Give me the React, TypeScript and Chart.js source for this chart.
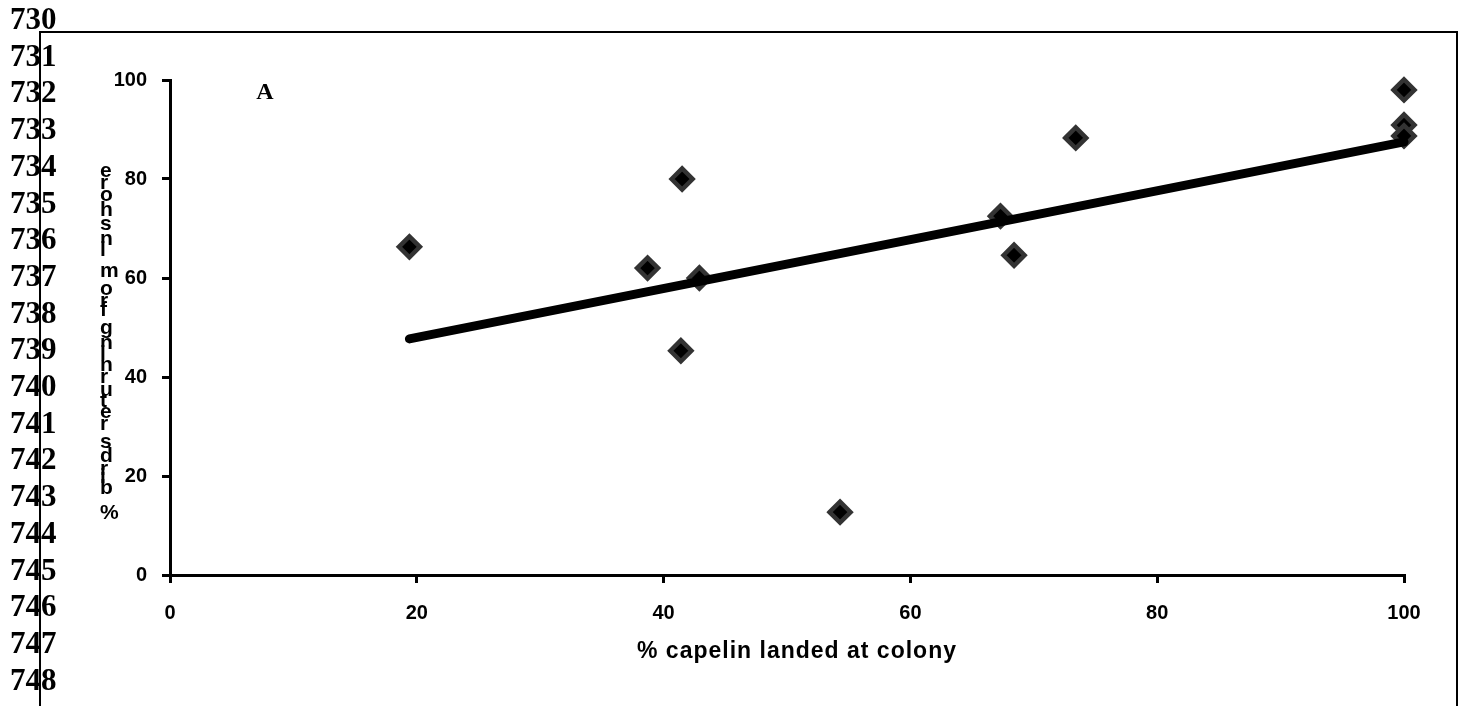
import React, { useEffect, useRef } from 'react';
import { Chart, registerables } from 'chart.js';

Chart.register(...registerables);

// ---- data ----
const capelinLanded = [19.4, 38.7, 41.5, 41.4, 42.9, 54.3, 67.3, 68.4, 73.4, 100, 100, 100];
const birdsReturning = [66.3, 62.0, 80.0, 45.3, 60.0, 12.7, 72.5, 64.6, 88.3, 98.0, 90.9, 88.7];
const trendX = [19.4, 100];
const trendY = [47.7, 87.5];
const xTickValues = [0, 20, 40, 60, 80, 100];
const yTickValues = [0, 20, 40, 60, 80, 100];
const lineNumbers = [
  '730', '731', '732', '733', '734', '735', '736', '737', '738', '739',
  '740', '741', '742', '743', '744', '745', '746', '747', '748',
];
const panelLabel = 'A';
const xTitle = '% capelin landed at colony';
const yTitle = '% birds returning from inshore';

const SANS = '"Liberation Sans", Arial, sans-serif';
const SERIF = '"Liberation Serif", "Times New Roman", serif';

const decorPlugin = {
  id: 'decor',
  afterDraw(chart: any) {
    const ctx: CanvasRenderingContext2D = chart.ctx;
    const area = chart.chartArea;
    ctx.save();
    ctx.fillStyle = '#000';

    // line numbers on the left margin
    ctx.font = `bold 31px ${SERIF}`;
    ctx.textAlign = 'left';
    ctx.textBaseline = 'middle';
    lineNumbers.forEach((t, i) => {
      ctx.fillText(t, 10, 21 + i * 36.7);
    });

    // page box border
    ctx.strokeStyle = '#000';
    ctx.lineWidth = 2;
    ctx.beginPath();
    ctx.moveTo(40, chart.height);
    ctx.lineTo(40, 32);
    ctx.lineTo(1457, 32);
    ctx.lineTo(1457, chart.height);
    ctx.stroke();

    // panel label
    ctx.font = `bold 24px ${SERIF}`;
    ctx.textAlign = 'center';
    ctx.fillText(panelLabel, 265, 93);

    // stacked y-axis title (upright glyphs, rotated advance)
    const chars = Array.from(yTitle);
    let pos = 0;
    const base = 524;
    ctx.textAlign = 'left';
    ctx.textBaseline = 'middle';
    chars.forEach((ch) => {
      ctx.font = `bold 24.5px ${SANS}`;
      const adv = ctx.measureText(ch).width;
      const cy = base - pos - adv / 2;
      pos += adv;
      if (ch !== ' ') {
        ctx.font = `bold 21px ${SANS}`;
        ctx.fillText(ch, 100, cy);
      }
    });

    // x-axis title
    ctx.font = `bold 23px ${SANS}`;
    (ctx as any).letterSpacing = '1px';
    ctx.textAlign = 'center';
    ctx.fillText(xTitle, (area.left + area.right) / 2 + 10, 652);
    ctx.restore();
  },
};

const whiteBg = {
  id: 'whiteBg',
  beforeDraw(chart: any) {
    const ctx = chart.ctx;
    ctx.save();
    ctx.fillStyle = '#fff';
    ctx.fillRect(0, 0, chart.width, chart.height);
    ctx.restore();
  },
};

export default function App() {
  const ref = useRef<HTMLCanvasElement | null>(null);

  useEffect(() => {
    document.body.style.margin = '0';
    document.body.style.overflow = 'hidden';
    if (!ref.current) return;
    const points = capelinLanded.map((x, i) => ({ x, y: birdsReturning[i] }));
    const trend = trendX.map((x, i) => ({ x, y: trendY[i] }));
    const axisCommon = {
      type: 'linear' as const,
      min: 0,
      max: 100,
      border: { display: true, color: '#000', width: 3 },
      grid: {
        drawOnChartArea: false,
        drawTicks: true,
        tickLength: 8,
        tickWidth: 3,
        color: '#000',
        lineWidth: 3,
      },
    };
    const chart = new Chart(ref.current, {
      type: 'scatter',
      data: {
        datasets: [
          {
            label: 'trend',
            data: trend,
            showLine: true,
            borderColor: '#000',
            backgroundColor: '#000',
            borderWidth: 9,
            borderCapStyle: 'round',
            pointRadius: 0,
            pointHoverRadius: 0,
            clip: false,
          } as any,
          {
            label: 'birds',
            data: points,
            pointStyle: 'rectRot',
            pointRadius: 10.5,
            pointHoverRadius: 10.5,
            backgroundColor: '#000',
            borderColor: '#333333',
            borderWidth: 4.5,
            clip: false,
          } as any,
        ],
      },
      options: {
        responsive: false,
        animation: false,
        events: [],
        layout: { padding: { left: 0, top: 80, right: 60, bottom: 0 } },
        plugins: {
          legend: { display: false },
          tooltip: { enabled: false },
          title: { display: false },
        },
        scales: {
          x: {
            ...axisCommon,
            position: 'bottom',
            afterBuildTicks: (s: any) => {
              s.ticks = xTickValues.map((v) => ({ value: v }));
            },
            afterFit: (s: any) => {
              s.height = 131;
            },
            ticks: {
              color: '#000',
              padding: 18,
              maxRotation: 0,
              font: { family: SANS, size: 20, weight: 'bold' },
            },
          },
          y: {
            ...axisCommon,
            position: 'left',
            afterBuildTicks: (s: any) => {
              s.ticks = yTickValues.map((v) => ({ value: v }));
            },
            afterFit: (s: any) => {
              s.width = 170;
            },
            ticks: {
              color: '#000',
              padding: 15,
              font: { family: SANS, size: 20, weight: 'bold' },
            },
          },
        } as any,
      },
      plugins: [whiteBg, decorPlugin],
    });
    return () => chart.destroy();
  }, []);

  return (
    <canvas
      ref={ref}
      width={1464}
      height={706}
      style={{ display: 'block', width: '1464px', height: '706px' }}
    />
  );
}
